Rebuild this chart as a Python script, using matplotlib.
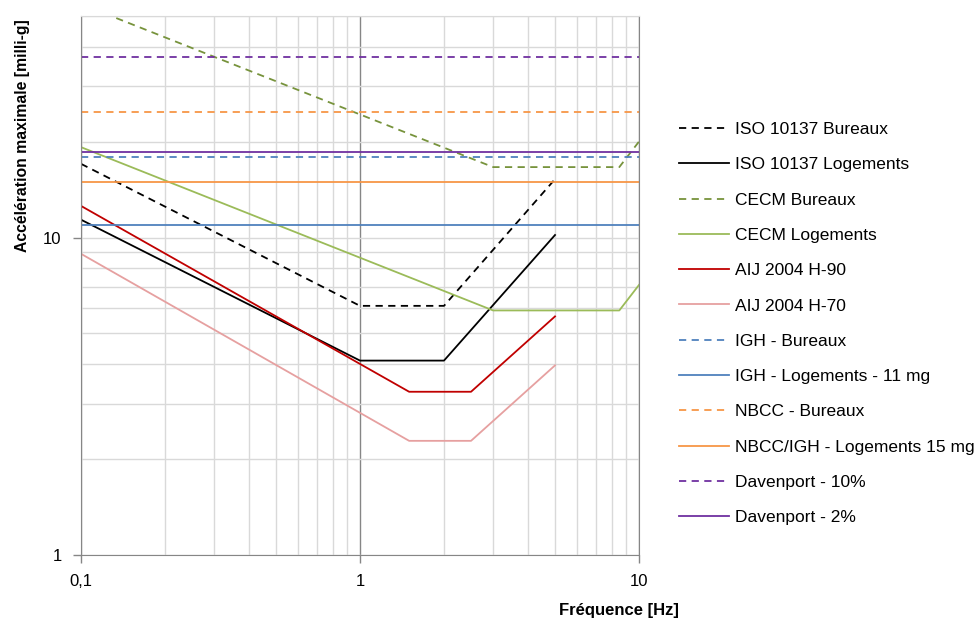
import matplotlib.pyplot as plt
from matplotlib.ticker import FixedLocator, NullFormatter, LogLocator

plt.rcParams['font.family'] = ['Liberation Sans', 'DejaVu Sans']

# frequences [Hz] et accelerations [milli-g]
f_full = [0.1, 10]

iso_f = [0.1, 1, 2, 5]
iso_bureaux = [17.1, 6.1, 6.1, 15.3]
iso_logements = [11.4, 4.1, 4.1, 10.2]

cecm_f = [0.1, 3, 8.5, 10]
cecm_bureaux = [54.5, 16.7, 16.7, 20.1]
cecm_logements = [19.3, 5.9, 5.9, 7.1]

aij_f = [0.1, 1.5, 2.5, 5]
aij_h90 = [12.6, 3.27, 3.27, 5.65]
aij_h70 = [8.9, 2.29, 2.29, 3.96]

igh_bureaux = 18.0
igh_logements = 11.0
nbcc_bureaux = 25.0
nbcc_logements = 15.0
davenport_10 = 37.0
davenport_2 = 18.7

series = [
    ("ISO 10137 Bureaux", iso_f, iso_bureaux, 'black', '--'),
    ("ISO 10137 Logements", iso_f, iso_logements, 'black', '-'),
    ("CECM Bureaux", cecm_f, cecm_bureaux, '#77933C', '--'),
    ("CECM Logements", cecm_f, cecm_logements, '#9BBB59', '-'),
    ("AIJ 2004 H-90", aij_f, aij_h90, '#C00000', '-'),
    ("AIJ 2004 H-70", aij_f, aij_h70, '#E6A0A0', '-'),
    ("IGH - Bureaux", f_full, [igh_bureaux] * 2, '#4F81BD', '--'),
    ("IGH - Logements - 11 mg", f_full, [igh_logements] * 2, '#4F81BD', '-'),
    ("NBCC - Bureaux", f_full, [nbcc_bureaux] * 2, '#F79646', '--'),
    ("NBCC/IGH - Logements 15 mg", f_full, [nbcc_logements] * 2, '#F79646', '-'),
    ("Davenport - 10%", f_full, [davenport_10] * 2, '#7030A0', '--'),
    ("Davenport - 2%", f_full, [davenport_2] * 2, '#7030A0', '-'),
]

fig = plt.figure(figsize=(9.76, 6.24), dpi=100)
ax = fig.add_axes([81 / 976, 1 - 555 / 624, 558 / 976, 539 / 624])

for label, x, y, c, ls in series:
    kw = dict(dashes=(4, 3)) if ls == '--' else {}
    ax.plot(x, y, color=c, lw=1.3, ls=ls, label=label, **kw)

ax.set_xscale('log')
ax.set_yscale('log')
ax.set_xlim(0.1, 10)
ax.set_ylim(1, 50)

ax.xaxis.set_major_locator(FixedLocator([0.1, 1, 10]))
ax.set_xticklabels(['0,1', '1', '10'])
ax.xaxis.set_minor_locator(LogLocator(base=10, subs=range(2, 10)))
ax.xaxis.set_minor_formatter(NullFormatter())
ax.yaxis.set_major_locator(FixedLocator([1, 10]))
ax.set_yticklabels(['1', '10'])
ax.yaxis.set_minor_locator(LogLocator(base=10, subs=range(2, 10)))
ax.yaxis.set_minor_formatter(NullFormatter())

ax.tick_params(which='major', direction='out', length=6, width=1, color='#868686',
               labelsize=12, pad=8)
ax.tick_params(which='minor', length=0)

ax.grid(True, which='minor', axis='both', color='#D9D9D9', lw=1)
ax.grid(True, which='major', axis='y', color='#D9D9D9', lw=1)
ax.grid(True, which='major', axis='x', color='#868686', lw=1)
ax.set_axisbelow(True)

for side in ['left', 'bottom', 'right']:
    ax.spines[side].set_color('#868686')
ax.spines['top'].set_color('#D9D9D9')

fig.text(23 / 976, 1 - 136 / 624, 'Accélération maximale [milli-g]', rotation=90,
         ha='center', va='center', fontsize=11.3, fontweight='bold')
fig.text(619 / 976, 1 - 611 / 624, 'Fréquence [Hz]', ha='center', va='center',
         fontsize=12, fontweight='bold')

fig.legend(loc='upper left', bbox_to_anchor=(672 / 976, 1 - 115 / 624), frameon=False,
           fontsize=12.5, handlelength=2.9, handletextpad=0.35, labelspacing=1.16,
           borderaxespad=0)

fig.savefig('out.png', dpi=100)
